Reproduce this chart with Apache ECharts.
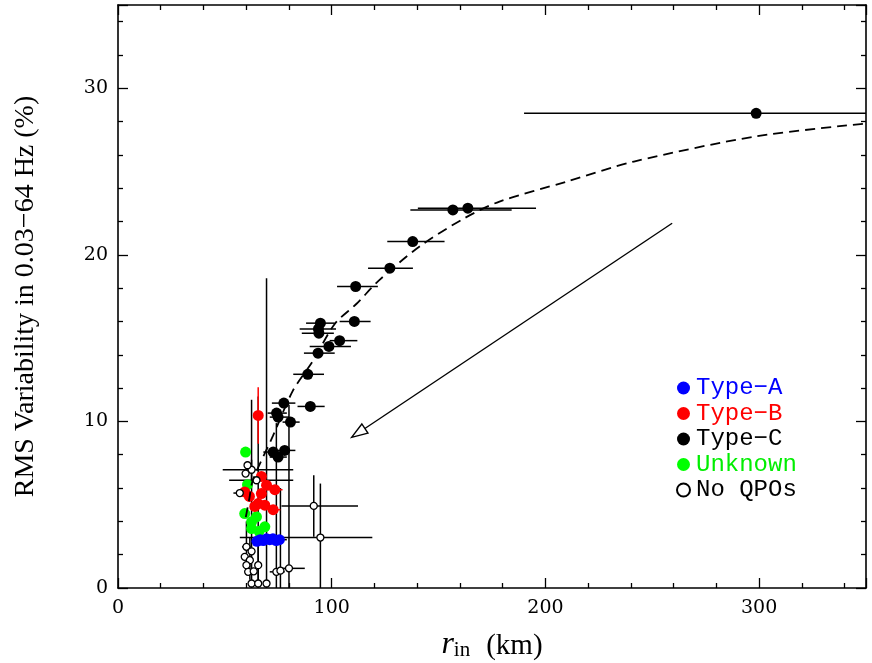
<!DOCTYPE html>
<html><head><meta charset="utf-8">
<script src="https://cdn.jsdelivr.net/npm/echarts@6/dist/echarts.min.js"></script>
<style>html,body{margin:0;padding:0;background:#fff}#c{width:872px;height:663px}</style>
</head><body><div id="c"></div>
<script>
// Tick labels
const xTicks = [0, 100, 200, 300];
const yTicks = [0, 10, 20, 30];
// Rows: [r_in (km), rms (%), xLow, xHigh, yLow, yHigh]
const typeA = [
  [65.0, 2.80, 65.0, 65.0, 2.80, 2.80],
  [66.5, 2.90, 66.5, 66.5, 2.90, 2.90],
  [68.0, 2.85, 68.0, 68.0, 2.85, 2.85],
  [69.5, 2.95, 69.5, 69.5, 2.95, 2.95],
  [71.0, 2.90, 71.0, 71.0, 2.90, 2.90],
  [72.5, 2.95, 72.5, 72.5, 2.95, 2.95],
  [74.0, 2.85, 74.0, 74.0, 2.85, 2.85],
  [75.5, 2.90, 72.0, 79.0, 2.90, 2.90]
];
const typeB = [
  [65.6, 10.36, 65.6, 65.6, 8.66, 12.05],
  [67.1, 6.70, 67.1, 67.1, 6.70, 6.70],
  [69.5, 6.17, 69.5, 69.5, 6.17, 6.17],
  [59.3, 5.77, 59.3, 59.3, 5.77, 5.77],
  [61.5, 5.50, 61.5, 61.5, 5.50, 5.50],
  [67.1, 5.67, 67.1, 67.1, 5.67, 5.67],
  [65.6, 5.07, 65.6, 65.6, 5.07, 5.07],
  [68.7, 4.97, 68.7, 68.7, 4.97, 4.97],
  [73.4, 5.90, 70.0, 77.0, 5.90, 5.90],
  [72.6, 4.70, 70.0, 76.0, 4.70, 4.70],
  [64.0, 4.90, 64.0, 64.0, 4.90, 4.90]
];
const typeC = [
  [298.6, 28.50, 190.0, 400.0, 28.50, 28.50],
  [163.7, 22.80, 140.3, 195.6, 22.80, 22.80],
  [156.7, 22.70, 136.8, 184.2, 22.70, 22.70],
  [137.9, 20.80, 126.0, 152.8, 20.80, 20.80],
  [127.2, 19.20, 117.0, 138.0, 19.20, 19.20],
  [111.2, 18.10, 102.5, 121.6, 18.10, 18.10],
  [110.6, 16.00, 103.7, 118.2, 16.00, 16.00],
  [94.7, 15.90, 88.0, 101.4, 15.90, 15.90],
  [93.8, 15.55, 85.0, 102.0, 15.55, 15.55],
  [94.0, 15.30, 86.0, 101.0, 15.30, 15.30],
  [103.7, 14.85, 99.0, 112.0, 14.85, 14.85],
  [98.7, 14.50, 89.7, 109.0, 14.50, 14.50],
  [93.6, 14.10, 87.0, 101.4, 14.10, 14.10],
  [88.8, 12.83, 82.0, 96.4, 12.83, 12.83],
  [90.0, 10.90, 84.0, 96.7, 10.90, 10.90],
  [77.6, 11.10, 72.0, 83.0, 11.10, 11.10],
  [74.2, 10.50, 70.0, 79.0, 10.50, 10.50],
  [74.9, 10.26, 71.0, 80.0, 10.26, 10.26],
  [80.7, 9.96, 77.0, 85.0, 9.96, 9.96],
  [72.6, 8.16, 68.0, 77.0, 8.16, 8.16],
  [74.9, 7.86, 71.0, 79.0, 7.86, 7.86],
  [78.0, 8.26, 74.0, 83.0, 8.26, 8.26]
];
const unknown = [
  [59.7, 8.16, 59.7, 59.7, 8.16, 8.16],
  [60.6, 6.20, 60.6, 60.6, 6.20, 6.20],
  [59.3, 4.47, 59.3, 59.3, 4.47, 4.47],
  [62.5, 3.97, 62.5, 62.5, 3.97, 3.97],
  [64.8, 4.27, 64.8, 64.8, 4.27, 4.27],
  [62.5, 3.57, 62.5, 62.5, 3.57, 3.57],
  [68.7, 3.67, 68.7, 68.7, 3.67, 3.67],
  [66.0, 3.40, 66.0, 66.0, 3.40, 3.40]
];
const noQPO = [
  [62.5, 0.27, 62.5, 62.5, -11.0, 11.3],
  [65.6, 0.27, 65.6, 65.6, -11.0, 11.5],
  [69.5, 0.27, 69.5, 69.5, -18.0, 18.6],
  [74.1, 0.97, 71.0, 78.0, -8.0, 9.9],
  [80.0, 1.18, 75.0, 87.4, -8.6, 11.0],
  [76.0, 1.04, 76.0, 76.0, -4.0, 6.0],
  [60.1, 2.47, 58.0, 62.0, 1.0, 4.0],
  [59.3, 1.87, 59.3, 59.3, 1.87, 1.87],
  [61.7, 1.67, 61.7, 61.7, 0.5, 3.0],
  [60.1, 1.37, 60.1, 60.1, 1.37, 1.37],
  [60.9, 0.97, 60.9, 60.9, 0.97, 0.97],
  [65.6, 1.37, 65.6, 65.6, 0.0, 3.0],
  [62.5, 2.20, 62.5, 62.5, 2.20, 2.20],
  [63.5, 1.00, 63.5, 63.5, 1.00, 1.00],
  [91.6, 4.93, 76.5, 112.3, 3.07, 6.77],
  [94.7, 3.03, 57.0, 119.0, -0.2, 6.27],
  [62.5, 7.10, 49.0, 82.0, 6.5, 7.7],
  [64.8, 6.47, 52.0, 82.0, 6.47, 6.47],
  [57.0, 5.70, 54.0, 60.0, 5.70, 5.70],
  [60.6, 7.37, 60.6, 60.6, 7.37, 7.37],
  [59.7, 6.87, 59.7, 59.7, 6.87, 6.87]
];
// Dashed model curve
const curveX = [59.8, 61.5, 63.1, 72.6, 81.9, 91.3, 101.4, 111.5, 122.4, 141.1, 162.1, 178.5, 210.0, 241.4, 298.0, 351.0];
const curveY = [4.25, 5.40, 6.47, 9.16, 11.86, 13.65, 15.85, 17.05, 18.5, 20.5, 22.2, 23.2, 24.4, 25.6, 27.1, 27.9];
// Arrow annotation [r_in, rms]
const arrowFrom = [259.3, 21.9];
const arrowTo = [109.3, 9.04];

const XMIN = 0, XMAX = 350, YMIN = 0, YMAX = 35;
const cl = (v, a, b) => Math.max(a, Math.min(b, v));

function errRender(color) {
  return function (params, api) {
    const x = api.value(0), y = api.value(1);
    const xl = api.value(2), xh = api.value(3), yl = api.value(4), yh = api.value(5);
    const ch = [];
    if (xh > xl) {
      const p1 = api.coord([cl(xl, XMIN, XMAX), y]), p2 = api.coord([cl(xh, XMIN, XMAX), y]);
      ch.push({type: 'line', shape: {x1: p1[0], y1: p1[1], x2: p2[0], y2: p2[1]}, style: {stroke: color, lineWidth: 1.5}});
    }
    if (yh > yl) {
      const p1 = api.coord([x, cl(yl, YMIN, YMAX)]), p2 = api.coord([x, cl(yh, YMIN, YMAX)]);
      ch.push({type: 'line', shape: {x1: p1[0], y1: p1[1], x2: p2[0], y2: p2[1]}, style: {stroke: color, lineWidth: 1.5}});
    }
    return {type: 'group', children: ch};
  };
}

function arrowRender(params, api) {
  const a = api.coord([api.value(0), api.value(1)]);
  const b = api.coord([api.value(2), api.value(3)]);
  const dx = b[0] - a[0], dy = b[1] - a[1];
  const L = Math.hypot(dx, dy), ux = dx / L, uy = dy / L;
  const hl = 16, hw = 5.5;
  const bx = b[0] - ux * hl, by = b[1] - uy * hl;
  return {type: 'group', children: [
    {type: 'line', shape: {x1: a[0], y1: a[1], x2: bx, y2: by}, style: {stroke: '#000', lineWidth: 1.4}},
    {type: 'polygon', shape: {points: [[b[0], b[1]], [bx - uy * hw, by + ux * hw], [bx + uy * hw, by - ux * hw]]},
      style: {fill: '#fff', stroke: '#000', lineWidth: 1.4}}
  ]};
}

const axisCommon = {
  type: 'value',
  axisLine: {show: true, onZero: false, lineStyle: {color: '#000', width: 1.6}},
  axisTick: {show: true, inside: true, length: 10, lineStyle: {color: '#000', width: 1.3}},
  minorTick: {show: true, splitNumber: 5, length: 5, lineStyle: {color: '#000', width: 1.3}},
  splitLine: {show: false},
  minorSplitLine: {show: false}
};
const labelFont = {fontFamily: 'DejaVu Serif', fontSize: 19, color: '#000'};

const chart = echarts.init(document.getElementById('c'), null, {renderer: 'canvas'});
const filled = (name, color, data) => ({
  name, type: 'scatter', data, symbol: 'circle', symbolSize: 11, z: 4,
  itemStyle: {color, opacity: 1}, encode: {x: 0, y: 1}
});
const bars = (color, data, z) => ({
  type: 'custom', data, renderItem: errRender(color), z: z || 2, silent: true, encode: {x: 0, y: 1}
});

chart.setOption({
  animation: false,
  backgroundColor: '#fff',
  grid: {left: 118, right: 6, top: 5, bottom: 75, containLabel: false, outerBoundsMode: 'none'},
  xAxis: [
    Object.assign({}, axisCommon, {
      min: XMIN, max: XMAX, interval: 100, position: 'bottom',
      axisLabel: Object.assign({margin: 11, formatter: v => xTicks.includes(v) ? String(v) : ''}, labelFont),
      name: '{r|r}{s|in}{t|(km)}', nameLocation: 'middle', nameGap: 43,
      nameTextStyle: {rich: {
        r: {fontFamily: 'Liberation Serif', fontStyle: 'italic', fontSize: 32, color: '#000', verticalAlign: 'bottom', lineHeight: 30},
        s: {fontFamily: 'Liberation Serif', fontSize: 21, color: '#000', verticalAlign: 'bottom', lineHeight: 14},
        t: {fontFamily: 'Liberation Serif', fontSize: 29, color: '#000', verticalAlign: 'bottom', lineHeight: 30, padding: [0, 0, 0, 16]}
      }}
    }),
    Object.assign({}, axisCommon, {min: XMIN, max: XMAX, interval: 100, position: 'top', axisLabel: {show: false}})
  ],
  yAxis: [
    Object.assign({}, axisCommon, {
      min: YMIN, max: YMAX, interval: 10, position: 'left',
      axisLabel: Object.assign({margin: 10, formatter: v => yTicks.includes(v) ? String(v) : ''}, labelFont),
      name: 'RMS Variability in 0.03\u221264 Hz (%)', nameLocation: 'middle', nameGap: 78,
      nameTextStyle: {fontFamily: 'Liberation Serif', fontSize: 28, color: '#000'}
    }),
    Object.assign({}, axisCommon, {min: YMIN, max: YMAX, interval: 10, position: 'right', axisLabel: {show: false}})
  ],
  legend: {
    orient: 'vertical', left: 671, top: 371, itemGap: 1.5, itemWidth: 13, itemHeight: 13,
    icon: 'circle', selectedMode: false,
    textStyle: {fontFamily: 'Liberation Mono', fontSize: 24, lineHeight: 24, color: '#000', padding: [0, 0, 0, 1]},
    data: [
      {name: 'Type\u2212A', textStyle: {color: '#0000ff'}},
      {name: 'Type\u2212B', textStyle: {color: '#ff0000'}},
      {name: 'Type\u2212C', textStyle: {color: '#000000'}},
      {name: 'Unknown', textStyle: {color: '#00ee00'}},
      {name: 'No QPOs', textStyle: {color: '#000000'}}
    ]
  },
  series: [
    bars('#000', noQPO, 2),
    bars('#000', typeC, 2),
    bars('#000', typeA, 2),
    bars('#000', unknown, 2),
    bars('#ff0000', typeB, 2),
    {type: 'line', data: curveX.map((x, i) => [x, curveY[i]]), showSymbol: false, smooth: 0.3, z: 6,
      lineStyle: {color: '#000', width: 1.8, type: [10, 6]}, silent: true},
    {type: 'custom', data: [[arrowFrom[0], arrowFrom[1], arrowTo[0], arrowTo[1]]], renderItem: arrowRender, z: 3, silent: true,
      encode: {x: [0, 2], y: [1, 3]}},
    filled('Type\u2212C', '#000000', typeC),
    filled('Unknown', '#00ff00', unknown),
    filled('Type\u2212B', '#ff0000', typeB),
    filled('Type\u2212A', '#0000ff', typeA),
    {name: 'No QPOs', type: 'scatter', data: noQPO, symbol: 'circle', symbolSize: 7, z: 5, encode: {x: 0, y: 1},
      itemStyle: {color: '#ffffff', borderColor: '#000000', borderWidth: 1.3, opacity: 1}}
  ]
});
</script></body></html>
